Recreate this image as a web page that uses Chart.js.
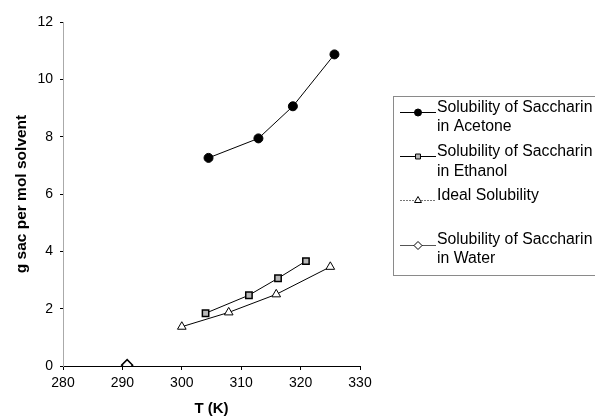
<!DOCTYPE html>
<html>
<head>
<meta charset="utf-8">
<script src="https://cdn.jsdelivr.net/npm/chart.js@4/dist/chart.umd.min.js"></script>
<style>
html,body{margin:0;padding:0;background:#fff;}
#c{display:block;}
</style>
</head>
<body>
<canvas id="c" width="595" height="418"></canvas>
<script>
// ---- data ----
const acetoneT = [304.5, 312.9, 318.7, 325.7];
const acetoneS = [7.26, 7.94, 9.06, 10.87];
const ethanolT = [304.0, 311.3, 316.2, 320.9];
const ethanolS = [1.84, 2.47, 3.06, 3.66];
const idealT   = [300.0, 307.9, 315.9, 325.0];
const idealS   = [1.37, 1.87, 2.50, 3.46];
const waterT   = [290.8];
const waterS   = [0.03];

const seriesLabels = [
  ["Solubility of Saccharin", "in Acetone"],
  ["Solubility of Saccharin", "in Ethanol"],
  ["Ideal Solubility"],
  ["Solubility of Saccharin", "in Water"]
];
const xTitle = "T (K)";
const yTitle = "g sac per mol solvent";
const xMin = 280, xMax = 330, xStep = 10;
const yMin = 0, yMax = 12, yStep = 2;

const FONT = 'Arial, "Liberation Sans", sans-serif';

function pts(xs, ys){ return xs.map((x,i)=>({x:x, y:ys[i]})); }

const legendPlugin = {
  id: 'boxLegend',
  afterDraw(chart){
    const ctx = chart.ctx;
    ctx.save();
    ctx.strokeStyle = '#8a8a8a';
    ctx.lineWidth = 1;
    ctx.strokeRect(393.5, 96.5, 260, 179);
    const rows = [
      {line:112, text:[108,127]},
      {line:156, text:[152,172]},
      {line:200, text:[196]},
      {line:245, text:[240,259]}
    ];
    chart.data.datasets.forEach((ds, i) => {
      const r = rows[i];
      ctx.strokeStyle = ds.legendLineColor;
      ctx.lineWidth = 1;
      ctx.setLineDash(ds.legendDash || []);
      ctx.beginPath();
      ctx.moveTo(400, r.line + 0.5);
      ctx.lineTo(436, r.line + 0.5);
      ctx.stroke();
      ctx.setLineDash([]);
      ctx.fillStyle = ds.pointBackgroundColor;
      ctx.strokeStyle = ds.pointBorderColor;
      ctx.lineWidth = 1;
      Chart.helpers.drawPoint(ctx, {
        pointStyle: ds.pointStyle,
        radius: ds.legendRadius,
        borderWidth: 1,
        rotation: 0
      }, 418, r.line + 0.5);
      ctx.font = '15.8px ' + FONT;
      ctx.textBaseline = 'middle';
      ctx.textAlign = 'left';
      ctx.fillStyle = '#000';
      seriesLabels[i].forEach((t, k) => {
        ctx.fillText(t, 437, r.text[k]);
      });
    });
    ctx.restore();
  }
};

new Chart(document.getElementById('c'), {
  type: 'scatter',
  data: {
    datasets: [
      {
        label: seriesLabels[0].join(' '),
        data: pts(acetoneT, acetoneS),
        showLine: true,
        borderColor: '#000', borderWidth: 1, legendLineColor: '#000',
        pointStyle: 'circle', pointRadius: 4.5, legendRadius: 3.5,
        pointBackgroundColor: '#000', pointBorderColor: '#000'
      },
      {
        label: seriesLabels[1].join(' '),
        data: pts(ethanolT, ethanolS),
        showLine: true,
        borderColor: '#000', borderWidth: 1, legendLineColor: '#000',
        pointStyle: 'rect', pointRadius: 4.5, legendRadius: 3.5,
        pointBorderWidth: 1.5,
        pointBackgroundColor: '#b8b8b8', pointBorderColor: '#000'
      },
      {
        label: seriesLabels[2].join(' '),
        data: pts(idealT, idealS),
        showLine: true,
        borderColor: '#000', borderWidth: 1, legendLineColor: '#777', legendDash: [2, 1],
        pointStyle: 'triangle', pointRadius: 5, legendRadius: 4,
        pointBackgroundColor: '#fff', pointBorderColor: '#000'
      },
      {
        label: seriesLabels[3].join(' '),
        data: pts(waterT, waterS),
        showLine: true,
        borderColor: '#000', borderWidth: 1, legendLineColor: '#555',
        pointStyle: 'rectRot', pointRadius: 5.5, legendRadius: 4,
        pointBorderWidth: 1.5,
        pointBackgroundColor: '#fff', pointBorderColor: '#000'
      }
    ]
  },
  options: {
    responsive: false,
    animation: false,
    devicePixelRatio: 1,
    layout: { padding: { top: 22, right: 235, left: 0, bottom: 0 } },
    plugins: { legend: { display: false }, tooltip: { enabled: false } },
    scales: {
      x: {
        type: 'linear', min: xMin, max: xMax,
        ticks: { stepSize: xStep, color: '#000', font: { family: FONT, size: 14 }, padding: 5, maxRotation: 0 },
        grid: { display: true, drawOnChartArea: false, drawTicks: true, tickLength: 4, color: '#000' },
        border: { display: true, color: '#000', width: 1 },
        title: { display: true, text: xTitle, color: '#000', font: { family: FONT, size: 15, weight: 'bold' }, padding: { top: 4, bottom: 0 } },
        afterFit(s){ s.height = 52; }
      },
      y: {
        type: 'linear', min: yMin, max: yMax,
        ticks: { stepSize: yStep, color: '#000', font: { family: FONT, size: 14 }, padding: 7 },
        grid: { display: true, drawOnChartArea: false, drawTicks: true, tickLength: 3, color: '#000' },
        border: { display: true, color: '#aaa', width: 1, dash: [1, 2] },
        title: { display: true, text: yTitle, color: '#000', font: { family: FONT, size: 15.5, weight: 'bold' }, padding: { top: 12, bottom: 4 } },
        afterFit(s){ s.width = 63; }
      }
    }
  },
  plugins: [legendPlugin]
});
</script>
</body>
</html>
